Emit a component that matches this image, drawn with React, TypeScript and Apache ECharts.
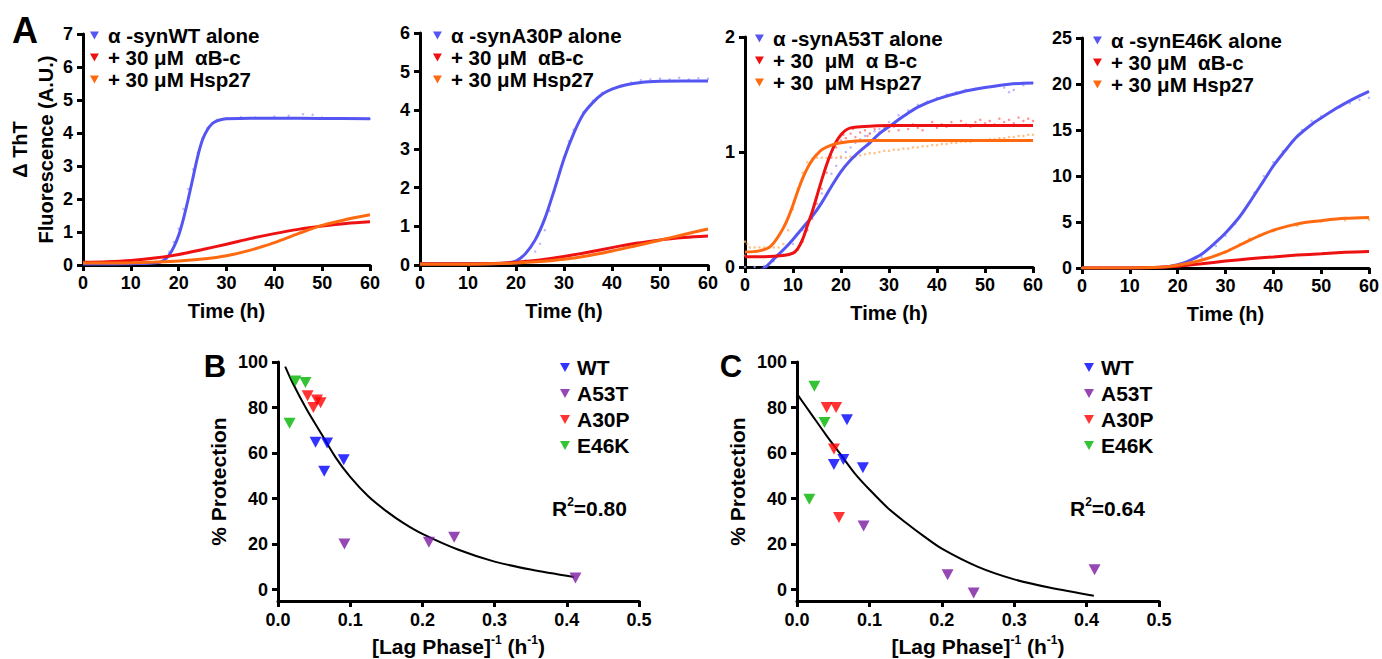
import React, { useEffect, useRef } from "react";
import * as echarts from "echarts";

const FONT = "'Liberation Sans', Arial, Helvetica, sans-serif";
const TRI = "path://M0,0L10,0L5,9Z";

// ---------- Panel A: ThT kinetics (time in h, ΔThT in A.U.) ----------
const timeMax = 60;
const timeStep = 10;
const topYMax = [7, 6, 2, 25];
const topYStep = [1, 1, 1, 5];

const legendTop = [
  ["α -synWT alone", "+ 30 μM  αB-c", "+ 30 μM Hsp27"],
  ["α -synA30P alone", "+ 30 μM  αB-c", "+ 30 μM Hsp27"],
  ["α -synA53T alone", "+ 30  μM  α B-c", "+ 30  μM Hsp27"],
  ["α -synE46K alone", "+ 30 μM  αB-c", "+ 30 μM Hsp27"],
];

// WT
const wtAloneFit = [[0,0.03],[5,0.03],[10,0.04],[14,0.05],[16,0.08],[17,0.15],[18,0.3],[19,0.55],[20,0.9],[21,1.4],[22,2.0],[23,2.65],[24,3.3],[25,3.8],[26,4.1],[27,4.28],[28,4.37],[29,4.41],[30,4.43],[35,4.45],[40,4.45],[50,4.44],[60,4.43]];
const wtAbcFit = [[0,0.08],[5,0.1],[10,0.14],[15,0.21],[20,0.32],[25,0.47],[30,0.63],[35,0.8],[40,0.95],[45,1.08],[50,1.18],[55,1.26],[60,1.31]];
const wtHspFit = [[0,0.06],[5,0.06],[10,0.07],[15,0.09],[20,0.12],[25,0.18],[30,0.28],[35,0.45],[40,0.68],[45,0.95],[50,1.2],[55,1.38],[60,1.52]];
const wtAloneDots = [[16,0.1],[17,0.2],[18,0.4],[19,0.7],[20,1.1],[21,1.7],[22,2.3],[23,2.9],[24,3.4],[25,3.85],[26,4.15],[27,4.3],[28,4.4],[30,4.45],[33,4.48],[36,4.47],[40,4.5],[43,4.52],[46,4.57],[48,4.55],[50,4.47],[53,4.45],[56,4.44],[60,4.43]];

// A30P
const a30pAloneFit = [[0,0.03],[10,0.03],[15,0.03],[18,0.05],[20,0.1],[22,0.3],[24,0.65],[26,1.2],[28,1.95],[30,2.75],[32,3.4],[34,3.9],[36,4.2],[38,4.42],[40,4.55],[43,4.66],[46,4.72],[50,4.75],[55,4.76],[60,4.76]];
const a30pAbcFit = [[0,0.03],[10,0.03],[15,0.04],[20,0.07],[25,0.13],[30,0.22],[35,0.33],[40,0.45],[45,0.56],[50,0.65],[55,0.71],[60,0.75]];
const a30pHspFit = [[0,0.02],[10,0.02],[15,0.03],[20,0.05],[25,0.09],[30,0.15],[35,0.24],[40,0.36],[45,0.5],[50,0.64],[55,0.79],[60,0.93]];
const a30pAloneDots = [[20,0.05],[22,0.12],[24,0.35],[25,0.55],[26,0.9],[27,1.4],[28,1.9],[29,2.4],[30,2.8],[31,3.2],[32,3.5],[34,3.95],[36,4.25],[38,4.45],[40,4.55],[42,4.65],[44,4.72],[46,4.78],[48,4.8],[50,4.82],[52,4.8],[54,4.84],[56,4.8],[58,4.83],[60,4.82]];

// A53T
const a53tAloneFit = [[0,-0.05],[2,-0.04],[4,-0.01],[6,0.07],[8,0.15],[10,0.24],[12,0.34],[14,0.44],[16,0.56],[18,0.7],[20,0.83],[22,0.93],[24,1.01],[26,1.08],[28,1.16],[30,1.22],[33,1.31],[36,1.39],[40,1.46],[45,1.52],[50,1.56],[55,1.59],[60,1.6]];
const a53tAbcFit = [[0,0.09],[4,0.09],[8,0.1],[10,0.12],[11,0.16],[12,0.24],[13,0.36],[14,0.48],[15,0.62],[16,0.76],[17,0.89],[18,1.0],[19,1.09],[20,1.15],[21,1.19],[22,1.21],[24,1.22],[30,1.23],[60,1.23]];
const a53tHspFit = [[0,0.13],[3,0.14],[5,0.17],[6,0.21],[7,0.27],[8,0.34],[9,0.43],[10,0.54],[11,0.66],[12,0.77],[13,0.86],[14,0.93],[15,0.98],[16,1.02],[18,1.06],[20,1.08],[23,1.095],[27,1.1],[60,1.1]];
const a53tAloneDots = [[0,0.0],[2,0.0],[4,0.01],[6,0.05],[8,0.11],[10,0.2],[12,0.32],[14,0.47],[16,0.64],[18,0.81],[19,0.88],[20,0.95],[21,1.0],[22,1.04],[23,1.08],[24,1.11],[25,1.14],[26,1.16],[27,1.18],[28,1.2],[29,1.23],[30,1.26],[32,1.32],[34,1.36],[36,1.41],[38,1.44],[40,1.47],[42,1.5],[44,1.52],[46,1.54],[48,1.55],[50,1.56],[52,1.57],[54,1.56],[55,1.52],[56,1.54],[58,1.58],[60,1.6]];
const a53tAbcDots = [[0,0.1],[2,0.09],[4,0.09],[6,0.09],[8,0.1],[10,0.12],[11,0.15],[12,0.22],[13,0.32],[14,0.42],[15,0.55],[16,0.68],[17,0.82],[18,0.95],[19,1.04],[20,1.1],[20.5,1.15],[21,1.12],[22,1.16],[22.5,1.2],[23,1.13],[24,1.17],[25,1.19],[25.5,1.14],[26,1.16],[27,1.2],[28,1.17],[29,1.21],[30,1.18],[31,1.22],[32,1.19],[33,1.23],[34,1.2],[35,1.24],[36,1.21],[37,1.19],[38,1.23],[39,1.26],[40,1.21],[41,1.24],[42,1.22],[43,1.26],[44,1.23],[45,1.27],[46,1.24],[47,1.22],[48,1.26],[49,1.28],[50,1.25],[51,1.27],[52,1.24],[53,1.29],[54,1.26],[55,1.28],[56,1.25],[57,1.3],[58,1.27],[59,1.29],[60,1.27]];
const a53tHspDots = [[0,0.22],[0.5,0.2],[1,0.17],[2,0.17],[3,0.17],[4,0.17],[5,0.17],[6,0.17],[7,0.17],[8,0.2],[9,0.32],[10,0.5],[11,0.68],[12,0.82],[13,0.91],[14,0.94],[15,0.95],[16,0.95],[17,0.95],[18,0.96],[19,0.95],[20,0.96],[21,0.95],[22,0.96],[23,0.96],[24,0.97],[25,0.98],[26,0.99],[27,0.99],[28,1.0],[29,1.01],[30,1.01],[31,1.02],[32,1.02],[33,1.03],[34,1.03],[35,1.04],[36,1.04],[37,1.05],[38,1.05],[39,1.06],[40,1.06],[41,1.07],[42,1.07],[43,1.08],[44,1.08],[45,1.09],[46,1.09],[47,1.09],[48,1.1],[49,1.1],[50,1.1],[51,1.11],[52,1.11],[53,1.12],[54,1.12],[55,1.13],[56,1.13],[57,1.14],[58,1.14],[59,1.15],[60,1.15]];

// E46K
const e46kAloneFit = [[0,0],[10,0],[15,0.05],[18,0.15],[20,0.35],[22,0.7],[25,1.5],[28,2.8],[30,3.8],[33,5.6],[35,7.1],[38,9.5],[40,11.1],[43,13.1],[45,14.3],[48,15.6],[50,16.3],[53,17.3],[55,17.9],[58,18.7],[60,19.2]];
const e46kAbcFit = [[0,0],[10,0],[15,0.05],[20,0.2],[25,0.45],[30,0.75],[35,1.0],[40,1.2],[45,1.4],[50,1.55],[55,1.7],[60,1.8]];
const e46kHspFit = [[0,0],[10,0],[15,0.05],[18,0.15],[20,0.3],[23,0.6],[26,1.0],[30,1.75],[33,2.5],[35,3.0],[38,3.7],[40,4.1],[43,4.55],[46,4.9],[50,5.15],[55,5.4],[60,5.5]];
const e46kAloneDots = [[25,1.2],[28,2.4],[30,3.5],[32,4.8],[34,6.3],[36,8.2],[38,10],[40,11.5],[42,12.7],[44,13.8],[46,15],[48,16],[50,16.5],[52,17],[54,17.5],[56,17.9],[58,18.3],[60,18.5]];
const e46kHspDots = [[0,0],[3,0],[6,0],[9,0],[12,0.02],[20,0.3],[25,0.9],[30,1.7],[33,2.6],[35,3.2],[37,3.6],[40,4.0],[45,4.6],[50,5.0],[55,5.2],[60,5.25]];

// ---------- Panels B and C: % protection vs 1/lag ----------
const lagMax = 0.5;
const lagStep = 0.1;
const protMin = -5;
const protMax = 100;
const protTicks = [0, 20, 40, 60, 80, 100];
const mutants = ["WT", "A53T", "A30P", "E46K"];

const bWT = [[0.052,64.7],[0.068,64.4],[0.064,52],[0.091,57.1]];
const bA53T = [[0.092,20],[0.209,20.8],[0.244,23],[0.412,5.1]];
const bA30P = [[0.041,85.2],[0.049,80],[0.054,83.3],[0.059,82.1]];
const bE46K = [[0.024,91.7],[0.038,91],[0.016,73.1]];
const bFit = [[0.01,98],[0.02,91],[0.04,79],[0.06,68.5],[0.08,58],[0.1,49.5],[0.125,41],[0.15,34.5],[0.175,29],[0.2,24.5],[0.25,17.5],[0.3,12.3],[0.35,8.8],[0.41,5.5]];

const cWT = [[0.051,55],[0.064,57.2],[0.069,74.6],[0.091,53.5]];
const cA53T = [[0.092,28],[0.208,6.5],[0.244,-1.5],[0.411,8.7]];
const cA30P = [[0.041,80],[0.054,80],[0.051,61.8],[0.058,31.7]];
const cE46K = [[0.024,89.4],[0.038,73.4],[0.017,39.7]];
const cFit = [[0.0,86],[0.02,77],[0.04,68],[0.06,59.5],[0.08,51],[0.1,44],[0.125,36],[0.15,29.5],[0.175,23.5],[0.2,18],[0.25,10],[0.3,4.5],[0.35,0.8],[0.41,-2.7]];

const C_BLUE = "#5555f2";
const C_RED = "#ee1111";
const C_ORANGE = "#ff6a10";
const L_BLUE = "#a9a9ff";
const L_RED = "#ff7a7a";
const L_ORANGE = "#ffb266";
const MUT_COLORS = ["#0000ff", "#7a1aa0", "#ff0000", "#00b400"];

const txt = (size: number) => ({ color: "#000", fontSize: size, fontWeight: "bold" as const, fontFamily: FONT });

export default function App() {
  const ref = useRef<HTMLDivElement>(null);
  useEffect(() => {
    if (!ref.current) return;
    const chart = echarts.init(ref.current, undefined, { renderer: "svg" });

    const grids = [
      { left: 83, top: 34, width: 287, height: 231 },
      { left: 420, top: 33, width: 288, height: 232 },
      { left: 745, top: 37, width: 288, height: 230 },
      { left: 1082, top: 38, width: 288, height: 230 },
      { left: 278, top: 362, width: 361, height: 241 },
      { left: 797, top: 362, width: 362, height: 241 },
    ];

    const axisLine = { show: true, onZero: false, lineStyle: { color: "#000", width: 3 } };
    const axisTick = { show: true, length: 6, lineStyle: { color: "#000", width: 3 } };

    const xAxes: any[] = [];
    const yAxes: any[] = [];
    for (let i = 0; i < 4; i++) {
      xAxes.push({
        type: "value", gridIndex: i, min: 0, max: timeMax, interval: timeStep,
        axisLine, axisTick, splitLine: { show: false },
        axisLabel: { ...txt(18), margin: 9 },
        name: "Time (h)", nameLocation: "middle", nameGap: 36, nameTextStyle: txt(20),
      });
      yAxes.push({
        type: "value", gridIndex: i, min: 0, max: topYMax[i], interval: topYStep[i],
        axisLine, axisTick, splitLine: { show: false },
        axisLabel: { ...txt(18), margin: 10 },
        ...(i === 0
          ? {
              name: "Δ ThT\nFluorescence (A.U.)", nameLocation: "middle", nameGap: 23,
              nameTextStyle: { ...txt(20), lineHeight: 26, align: "center" },
            }
          : {}),
      });
    }
    for (let k = 0; k < 2; k++) {
      const g = 4 + k;
      xAxes.push({
        type: "value", gridIndex: g, min: 0, max: lagMax, interval: lagStep,
        axisLine, axisTick, splitLine: { show: false },
        axisLabel: { ...txt(18), margin: 10, formatter: (v: number) => v.toFixed(1) },
        name: "[Lag Phase]{sup|-1} (h{sup|-1})", nameLocation: "middle", nameGap: 33,
        nameTextStyle: { ...txt(21), lineHeight: 24, rich: { sup: { ...txt(12), verticalAlign: "top", lineHeight: 12 } } },
      });
      yAxes.push({
        type: "value", gridIndex: g, min: protMin, max: protMax,
        axisLine, splitLine: { show: false },
        axisTick: { ...axisTick, customValues: protTicks },
        axisLabel: { ...txt(18), margin: 10, customValues: protTicks },
        name: "% Protection", nameLocation: "middle", nameGap: 49, nameTextStyle: txt(21),
      });
    }

    const series: any[] = [];
    const dots = (data: number[][], color: string, g: number) =>
      series.push({ type: "scatter", data, xAxisIndex: g, yAxisIndex: g, symbol: "circle", symbolSize: 2.5, itemStyle: { color }, silent: true, z: 2 });
    const fit = (name: string, data: number[][], color: string, g: number) =>
      series.push({ type: "line", name, data, xAxisIndex: g, yAxisIndex: g, smooth: 0.3, symbol: "none", clip: true, lineStyle: { color, width: 3 }, itemStyle: { color }, z: 3 });

    dots(wtAloneDots, L_BLUE, 0);
    dots(a30pAloneDots, L_BLUE, 1);
    dots(a53tAloneDots, L_BLUE, 2);
    dots(a53tAbcDots, L_RED, 2);
    dots(a53tHspDots, L_ORANGE, 2);
    dots(e46kAloneDots, L_BLUE, 3);
    dots(e46kHspDots, L_ORANGE, 3);

    const fits = [
      [wtAloneFit, wtAbcFit, wtHspFit],
      [a30pAloneFit, a30pAbcFit, a30pHspFit],
      [a53tAloneFit, a53tAbcFit, a53tHspFit],
      [e46kAloneFit, e46kAbcFit, e46kHspFit],
    ];
    const cols = [C_BLUE, C_RED, C_ORANGE];
    fits.forEach((set, g) => set.forEach((d, j) => fit(legendTop[g][j], d, cols[j], g)));

    const bSets = [bWT, bA53T, bA30P, bE46K];
    const cSets = [cWT, cA53T, cA30P, cE46K];
    [bSets, cSets].forEach((sets, k) => {
      const g = 4 + k;
      series.push({ type: "line", data: k === 0 ? bFit : cFit, xAxisIndex: g, yAxisIndex: g, smooth: 0.3, symbol: "none", lineStyle: { color: "#000", width: 2 }, z: 2 });
      sets.forEach((d, j) =>
        series.push({ type: "scatter", name: mutants[j], data: d, xAxisIndex: g, yAxisIndex: g, symbol: TRI, symbolSize: [12, 11], itemStyle: { color: MUT_COLORS[j] }, z: 4 })
      );
    });

    const legendPos = [
      { left: 90, top: 25 },
      { left: 433, top: 25 },
      { left: 755, top: 28 },
      { left: 1093, top: 30 },
    ];
    const legends: any[] = legendPos.map((p, i) => ({
      ...p, orient: "vertical", padding: 0, itemGap: 1, itemWidth: 9, itemHeight: 8, icon: TRI,
      selectedMode: false, data: legendTop[i], textStyle: { ...txt(20.5), padding: [0, 0, 0, 4] },
    }));
    [{ left: 560, top: 357 }, { left: 1084, top: 357 }].forEach((p) =>
      legends.push({
        ...p, orient: "vertical", padding: 0, itemGap: 5, itemWidth: 10, itemHeight: 9, icon: TRI,
        selectedMode: false, data: mutants, textStyle: { ...txt(21), padding: [0, 0, 0, 2] },
      })
    );

    const label = (text: string, x: number, y: number, size: number) => ({
      type: "text", x, y, style: { text, fill: "#000", font: `bold ${size}px ${FONT}`, align: "center", verticalAlign: "middle" },
    });
    const r2 = (val: string, x: number) => ({
      type: "text", x, y: 508,
      style: {
        text: `R{sup|2}=${val}`, fill: "#000", font: `bold 21px ${FONT}`, verticalAlign: "middle", lineHeight: 24,
        rich: { sup: { fill: "#000", font: `bold 12px ${FONT}`, verticalAlign: "top", lineHeight: 12 } },
      },
    });

    chart.setOption({
      animation: false,
      backgroundColor: "#fff",
      grid: grids,
      xAxis: xAxes,
      yAxis: yAxes,
      legend: legends,
      series,
      graphic: [
        label("A", 25, 30, 36),
        label("B", 215, 366, 31),
        label("C", 731, 366, 31),
        r2("0.80", 552),
        r2("0.64", 1070),
      ],
    });
    return () => chart.dispose();
  }, []);
  return <div ref={ref} style={{ position: "fixed", left: 0, top: 0, width: 1382, height: 659 }} />;
}
